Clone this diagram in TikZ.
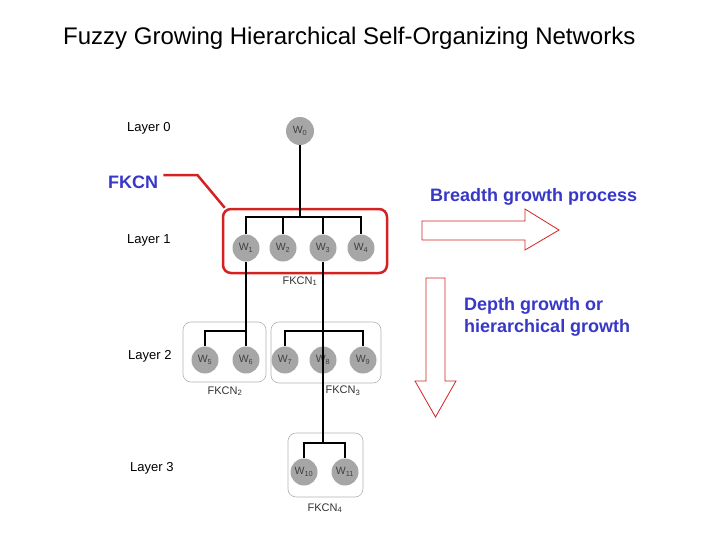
\documentclass[tikz,border=0pt]{standalone}
\usepackage{fontspec}
\setmainfont{Liberation Sans}
\usetikzlibrary{positioning}
\definecolor{fkred}{HTML}{D42222}
\definecolor{fkblue}{HTML}{3737C8}
\definecolor{nodegray}{HTML}{A6A6A6}

\begin{document}
\begin{tikzpicture}[
    x=1pt, y=-1pt,
    neuron/.style={circle, fill=nodegray, minimum size=27pt, inner sep=0pt, font=\fontsize{10.5}{11}\selectfont, text=black!75},
    layer/.style={anchor=west, inner sep=0pt, font=\fontsize{13}{15}\selectfont},
    group/.style={draw=gray!60, rounded corners=8pt, line width=0.6pt, inner sep=0pt},
    grouplabel/.style={font=\fontsize{11}{12}\selectfont, text=black!80},
    bluetext/.style={anchor=west, inner sep=0pt, align=left, text=fkblue, font=\fontsize{18}{22}\selectfont\bfseries},
    link/.style={line width=1.6pt},
    bigarrow/.style={draw=fkred, line width=0.8pt, line join=miter}
]
\useasboundingbox (0,0) rectangle (728,546);

\node[anchor=west, inner sep=0pt, font=\fontsize{24}{28}\selectfont] (title) at (63,38) {Fuzzy Growing Hierarchical Self-Organizing Networks};

% layer names
\node[layer] (layer0) at (127,128) {Layer 0};
\node[layer] (layer1) at (127,240) {Layer 1};
\node[layer] (layer2) at (128,356) {Layer 2};
\node[layer] (layer3) at (130,468) {Layer 3};

% group boxes
\node[group, draw=fkred, line width=2.5pt, minimum width=164pt, minimum height=64pt] (fkcn1) at (305,241) {};
\node[group, minimum width=83pt, minimum height=60pt] (fkcn2) at (224.5,352) {};
\node[group, minimum width=110pt, minimum height=61pt] (fkcn3) at (326,352.5) {};
\node[group, minimum width=75pt, minimum height=64pt] (fkcn4) at (325.5,465) {};

\node[grouplabel] (fkcn1lbl) at (300,281) {FKCN\textsubscript{1}};
\node[grouplabel] (fkcn2lbl) at (225,391) {FKCN\textsubscript{2}};
\node[grouplabel] (fkcn3lbl) at (343,391) {FKCN\textsubscript{3}};
\node[grouplabel] (fkcn4lbl) at (325,508) {FKCN\textsubscript{4}};

% neurons
\node[neuron, minimum size=28pt] (w0) at (300,131) {W\textsubscript{0}};
\node[neuron] (w1) at (246,248) {W\textsubscript{1}};
\node[neuron] (w2) at (283,248) {W\textsubscript{2}};
\node[neuron] (w3) at (323,248) {W\textsubscript{3}};
\node[neuron] (w4) at (361,248) {W\textsubscript{4}};
\node[neuron] (w5) at (205,360) {W\textsubscript{5}};
\node[neuron] (w6) at (246,360) {W\textsubscript{6}};
\node[neuron] (w7) at (285,360) {W\textsubscript{7}};
\node[neuron] (w8) at (323,360) {W\textsubscript{8}};
\node[neuron] (w9) at (363,360) {W\textsubscript{9}};
\node[neuron] (w10) at (304,472) {W\textsubscript{10}};
\node[neuron] (w11) at (345,472) {W\textsubscript{11}};

% tree links
\coordinate (bus1) at (300,217);
\coordinate (bus2) at (246,331);
\coordinate (bus3) at (323,331);
\coordinate (bus4) at (323,443);
\draw[link] (w0) -- (bus1);
\draw[link] (w1) |- (bus1) -| (w4);
\draw[link] (w2) -- (w2 |- bus1);
\draw[link] (w3) -- (w3 |- bus1);
\draw[link] (w1) -- (w6);
\draw[link] (w5) |- (bus2);
\draw[link] (w7) |- (bus3) -| (w9);
\draw[link] (w3) -- (bus4);
\draw[link] (w10) |- (bus4) -| (w11);

% FKCN callout
\node[bluetext] (fkcn) at (108,182) {FKCN};
\draw[fkred, line width=2.5pt] ([shift={(5,-7)}]fkcn.east) -- ++(34,0) -- ([xshift=3pt]fkcn1.north west);

% growth arrows
\node[bluetext] (breadth) at (430,197) {Breadth growth process};
\node[bluetext] (depth) at (464,317) {Depth growth or\\hierarchical growth};
\draw[bigarrow] (422,221) -- (525,221) -- (525,209) -- (559,230) -- (525,250) -- (525,240) -- (422,240) -- cycle;
\draw[bigarrow] (426,278) -- (445,278) -- (445,381) -- (456,381) -- (435.5,417) -- (415,381) -- (426,381) -- cycle;
\end{tikzpicture}
\end{document}
